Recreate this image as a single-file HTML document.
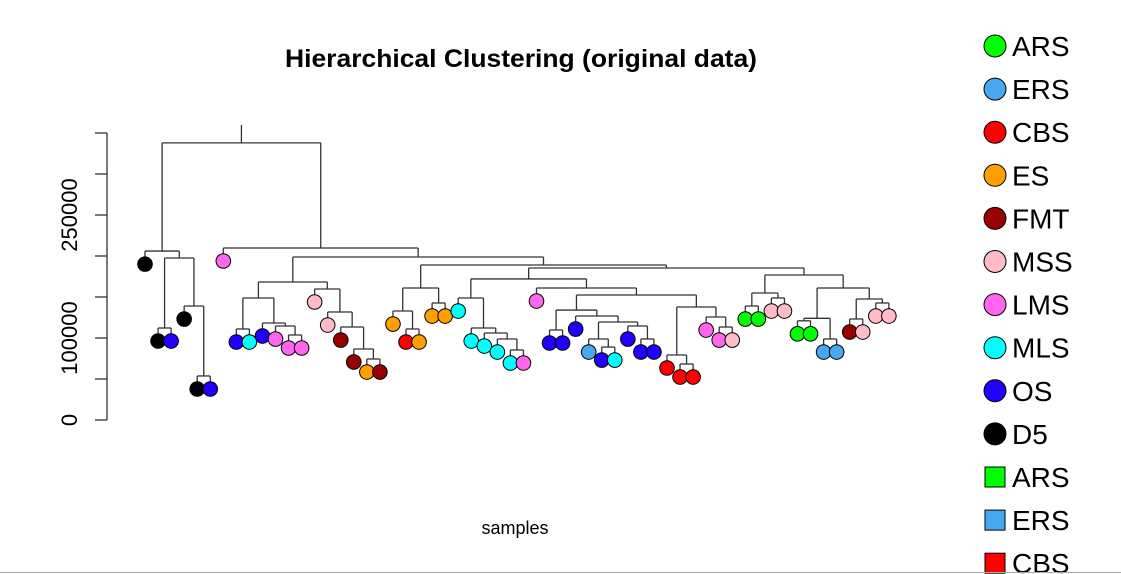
<!DOCTYPE html>
<html><head><meta charset="utf-8"><style>
html,body{margin:0;padding:0;background:#fff;}
svg{display:block;font-family:"Liberation Sans",Arial,sans-serif;}
</style></head><body>
<svg id="chart" width="1121" height="574" viewBox="0 0 1121 574">
  <text x="521" y="67" text-anchor="middle" font-size="25" font-weight="bold" textLength="472" lengthAdjust="spacingAndGlyphs">Hierarchical Clustering (original data)</text>
  <text x="515" y="534" text-anchor="middle" font-size="18">samples</text>
  <g id="axis"></g>
  <g id="tree"></g>
  <g id="legend"></g>
  <line x1="0" y1="572.5" x2="1121" y2="572.5" stroke="#aaa" stroke-width="1"/>
</svg>
<script>
const NS = "http://www.w3.org/2000/svg";
const groupNames = ["ARS","ERS","CBS","ES","FMT","MSS","LMS","MLS","OS","D5"];
const groupColors = ["#00ff00","#45a8f0","#ff0000","#ffa000","#990000","#ffbcc8","#ff66ee","#00ffff","#2200ff","#000000"];
const squareNames = ["ARS","ERS","CBS"];
const tickValues = [0,50000,100000,150000,200000,250000,300000,350000];
const tickLabels = ["0","","100000","","","250000","",""];
const leafGroups = ["D5","D5","OS","D5","D5","OS","LMS","OS","MLS","OS","LMS","LMS","LMS","MSS","MSS","FMT","FMT","ES","FMT","ES","CBS","ES","ES","ES","MLS","MLS","MLS","MLS","MLS","LMS","LMS","OS","OS","OS","ERS","OS","MLS","OS","OS","OS","CBS","CBS","CBS","LMS","LMS","MSS","ARS","ARS","MSS","MSS","ARS","ARS","ERS","ERS","FMT","MSS","MSS","MSS"];
const tree = [338000,
 [206000, 0, [197600, [112200,1,2], [139000, 3, [53700,4,5]]]],
 [209800, 6, [198800,
   [168300, [148800,[111000,7,8],[118300,9,[114600,10,[103700,11,12]]]], [159800,13,[131700,14,[113400,15,[86600,16,[74400,17,18]]]]]],
   [189000, [161000, [132900,19,[111000,20,21]], [142700,22,23]],
     [185400, [172000, [148800,24,[112200,25,[106100,26,[98800,27,[85400,28,29]]]]],
                       [161000,30,[152400,[134100,[109800,31,32],[126800,33,[119500,[98800,34,[89000,35,36]],[114600,37,[98800,38,39]]]]],
                                          [137800,[79300,40,[68300,41,42]],[125600,43,[113400,44,45]]]]]],
              [176800,[154900,[139000,46,47],[148800,48,49]],
                      [161000,[124000,[121000,50,51],[98800,52,53]],[147600,[123200,54,55],[142700,56,57]]]]]]]]];
const hang = 15900;

const y = v => 420 - v * 41 / 50000;
const xLeaf = i => 145 + i * 13.05;
function mk(tag, attrs, parent){const e=document.createElementNS(NS,tag);for(const k in attrs)e.setAttribute(k,attrs[k]);parent.appendChild(e);return e;}

// axis
const ax = document.getElementById('axis');
let l = mk('line',{x1:107,y1:y(tickValues[tickValues.length-1]),x2:107,y2:y(0),stroke:'#333','stroke-width':1.3},ax);


tickValues.forEach((v,i)=>{
  const t = mk('line',{x1:95,y1:y(v),x2:107,y2:y(v),stroke:'#333','stroke-width':1.3},ax);
  
  
  if(tickLabels[i]){
    const tx = mk('text',{x:0,y:0,'font-size':22,'text-anchor':'middle',transform:`translate(77,${y(v)}) rotate(-90)`},ax);
    tx.textContent = tickLabels[i];
    
    
  }
});

// tree
const tg = document.getElementById('tree');
const lines = [], leaves = [];
function layout(node){
  if(typeof node === 'number') return {x:xLeaf(node), leaf:node};
  const a = layout(node[1]), b = layout(node[2]);
  const h = node[0];
  [a,b].forEach(c=>{
    const cy = c.leaf!==undefined ? y(h - hang) : y(c.h);
    lines.push([c.x, y(h), c.x, cy]);
    if(c.leaf!==undefined) leaves.push([c.leaf, c.x, cy]);
  });
  lines.push([a.x, y(h), b.x, y(h)]);
  return {x:(a.x+b.x)/2, h:h};
}
const r = layout(tree);
lines.push([r.x, y(r.h), r.x, 125]);
lines.forEach(s=>{
  const e = mk('line',{x1:s[0],y1:s[1],x2:s[2],y2:s[3],stroke:'#333','stroke-width':1.3},tg);
  
  
});
leaves.sort((p,q)=>p[0]-q[0]).forEach(lf=>{
  const g = leafGroups[lf[0]];
  const c = mk('circle',{cx:lf[1],cy:lf[2],r:7.3,fill:groupColors[groupNames.indexOf(g)],stroke:'#000','stroke-width':1},tg);
  
  
});

// legend
const lg = document.getElementById('legend');
let row = 0;
groupNames.forEach((n,i)=>{
  const cy = 46 + row*43.1;
  const c = mk('circle',{cx:995,cy:cy,r:11,fill:groupColors[i],stroke:'#000','stroke-width':1},lg);
  
  
  const t = mk('text',{x:1012,y:cy+10,'font-size':28},lg);
  t.textContent = n;
  
  
  row++;
});
squareNames.forEach(n=>{
  const cy = 46 + row*43.1;
  const s = mk('rect',{x:985,y:cy-10,width:20,height:20,fill:groupColors[groupNames.indexOf(n)],stroke:'#000','stroke-width':1},lg);
  
  
  const t = mk('text',{x:1012,y:cy+10,'font-size':28},lg);
  t.textContent = n;
  
  
  row++;
});
</script>
</body></html>
